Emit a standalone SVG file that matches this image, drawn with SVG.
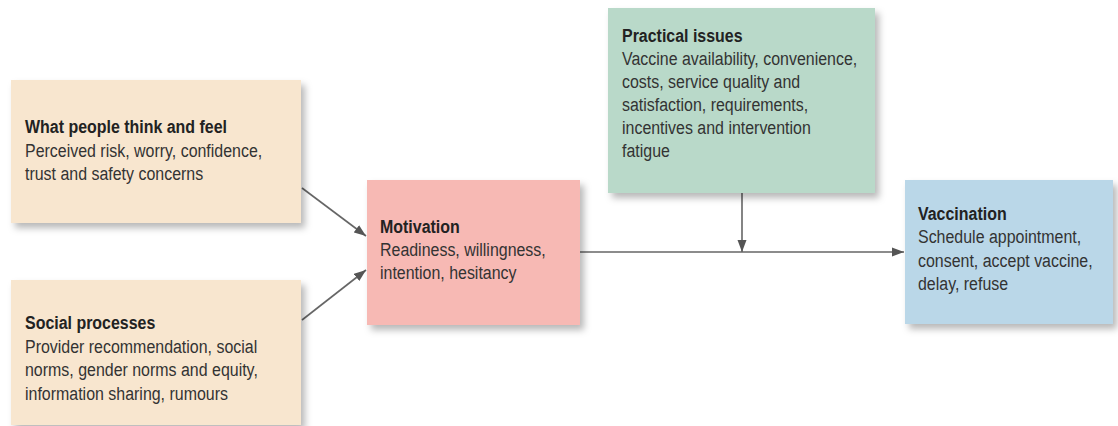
<svg xmlns="http://www.w3.org/2000/svg" width="1118" height="426" viewBox="0 0 1118 426">
  <style>
    text { font-family: "Liberation Sans", Arial, sans-serif; font-size: 19px; fill: #333; }
    .t { font-weight: bold; fill: #222; }
    .box { filter: url(#sh); }
    .conn { stroke: #666; stroke-width: 1.6; fill: none; marker-end: url(#ah); }
  </style>
  <defs>
    <filter id="sh" x="-10%" y="-10%" width="125%" height="130%">
      <feDropShadow dx="4" dy="5" stdDeviation="3.5" flood-color="#000" flood-opacity="0.28"/>
    </filter>
    <marker id="ah" markerUnits="userSpaceOnUse" markerWidth="13" markerHeight="10" refX="12" refY="5" orient="auto">
      <path d="M0,0.5 L12,5 L0,9.5 z" fill="#555"/>
    </marker>
  </defs>
  <rect width="1118" height="426" fill="#fff"/>

  <g id="connectors">
    <line class="conn" x1="302" y1="188" x2="366" y2="236"/>
    <line class="conn" x1="302" y1="320" x2="366" y2="270"/>
    <line class="conn" x1="580" y1="252" x2="904" y2="252"/>
    <line class="conn" x1="742" y1="193" x2="742" y2="252"/>
  </g>

  <g id="think-feel">
    <rect class="box" x="11" y="80" width="290" height="143" fill="#f8e6cf"/>
    <g transform="translate(25,0) scale(0.84,1)">
      <text class="t" x="0" y="133">What people think and feel</text>
      <text x="0" y="157">Perceived risk, worry, confidence,</text>
      <text x="0" y="180">trust and safety concerns</text>
    </g>
  </g>

  <g id="social">
    <rect class="box" x="11" y="280" width="290" height="145" fill="#f8e6cf"/>
    <g transform="translate(25,0) scale(0.84,1)">
      <text class="t" x="0" y="329">Social processes</text>
      <text x="0" y="353">Provider recommendation, social</text>
      <text x="0" y="376">norms, gender norms and equity,</text>
      <text x="0" y="400">information sharing, rumours</text>
    </g>
  </g>

  <g id="motivation">
    <rect class="box" x="367" y="180" width="213" height="145" fill="#f7b9b4"/>
    <g transform="translate(380,0) scale(0.84,1)">
      <text class="t" x="0" y="233">Motivation</text>
      <text x="0" y="256">Readiness, willingness,</text>
      <text x="0" y="279">intention, hesitancy</text>
    </g>
  </g>

  <g id="practical">
    <rect class="box" x="608" y="8" width="267" height="185" fill="#b9d9c9"/>
    <g transform="translate(622,0) scale(0.84,1)">
      <text class="t" x="0" y="42">Practical issues</text>
      <text x="0" y="65">Vaccine availability, convenience,</text>
      <text x="0" y="88">costs, service quality and</text>
      <text x="0" y="111">satisfaction, requirements,</text>
      <text x="0" y="134">incentives and intervention</text>
      <text x="0" y="157">fatigue</text>
    </g>
  </g>

  <g id="vaccination">
    <rect class="box" x="905" y="180" width="208" height="144" fill="#bad7e8"/>
    <g transform="translate(918,0) scale(0.84,1)">
      <text class="t" x="0" y="220">Vaccination</text>
      <text x="0" y="243">Schedule appointment,</text>
      <text x="0" y="267">consent, accept vaccine,</text>
      <text x="0" y="290">delay, refuse</text>
    </g>
  </g>
</svg>
